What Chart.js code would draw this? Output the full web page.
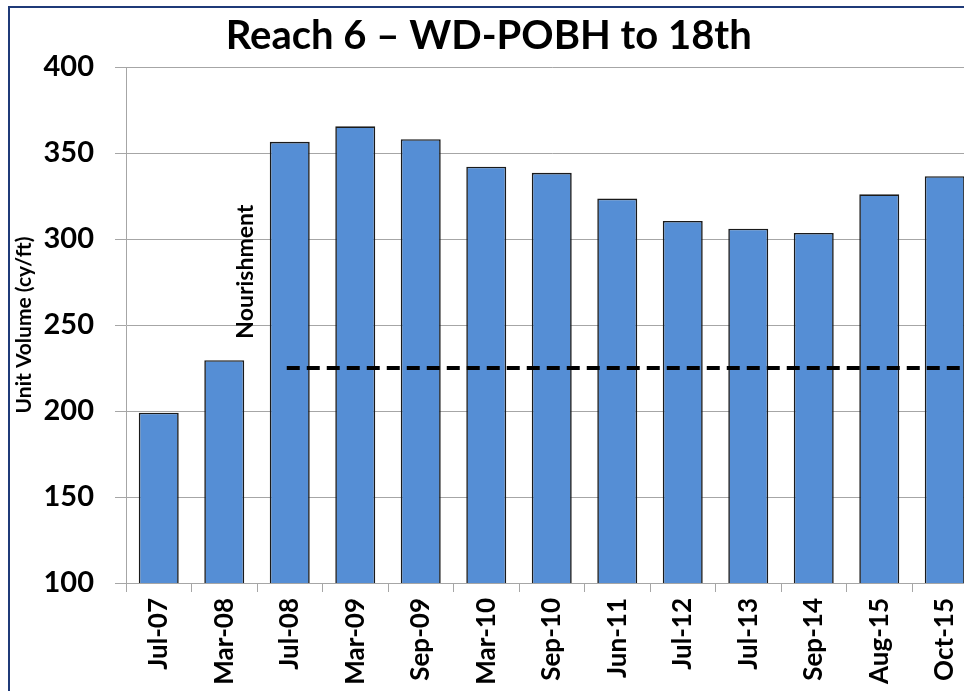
<!DOCTYPE html>
<html>
<head>
<meta charset="utf-8">
<script src="https://cdn.jsdelivr.net/npm/chart.js@4"></script>
<style>
  html, body { margin: 0; padding: 0; background: #fff; overflow: hidden; width: 964px; height: 691px; }
  #wrap { position: absolute; left: 0; top: 0; width: 984px; height: 691px; }
  #frame { position: absolute; left: 8px; top: 6px; width: 1100px; height: 1100px; border: 2.5px solid #1f3a78; pointer-events: none; }
</style>
</head>
<body>
<div id="wrap"><canvas id="c" width="984" height="691"></canvas></div>
<div id="frame"></div>
<script>
const categories = ['Jul-07','Mar-08','Jul-08','Mar-09','Sep-09','Mar-10','Sep-10','Jun-11','Jul-12','Jul-13','Sep-14','Aug-15','Oct-15'];
const unitVolume = [199, 229.5, 356.5, 365.5, 358, 342, 338.5, 323.5, 310.5, 306, 303.5, 326, 336.5];
const yTicks = [100, 150, 200, 250, 300, 350, 400];
const titleText = 'Reach 6 \u2013 WD-POBH to 18th';
const yTitle = 'Unit Volume (cy/ft)';
const referenceValue = 225;
const referenceStart = 'Jul-08';
const noteText = 'Nourishment';
const notePosition = [1.33, 281];

const FONT = 'Lato';
const GRID = '#a6a6a6';

const refLine = {
  id: 'refLine',
  afterDatasetsDraw(chart) {
    const {ctx, chartArea, scales: {x, y}} = chart;
    const yy = y.getPixelForValue(referenceValue);
    const x0 = x.getPixelForValue(categories.indexOf(referenceStart)) - 3;
    ctx.save();
    ctx.beginPath();
    ctx.setLineDash([13, 7]);
    ctx.lineWidth = 4;
    ctx.strokeStyle = '#000';
    ctx.moveTo(x0, yy);
    ctx.lineTo(chartArea.right + 10, yy);
    ctx.stroke();
    ctx.restore();
    const nx = x.getPixelForValue(notePosition[0]);
    const ny = y.getPixelForValue(notePosition[1]);
    ctx.save();
    ctx.translate(nx, ny);
    ctx.rotate(-Math.PI / 2);
    ctx.font = 'bold 23px ' + FONT;
    ctx.fillStyle = '#000';
    ctx.textAlign = 'center';
    ctx.textBaseline = 'middle';
    ctx.fillText(noteText, 0, 0);
    ctx.restore();
  }
};

new Chart(document.getElementById('c'), {
  type: 'bar',
  data: {
    labels: categories,
    datasets: [{
      data: unitVolume,
      backgroundColor: '#558ed5',
      borderColor: '#1a1a1a',
      borderWidth: 1.6,
      categoryPercentage: 1,
      barPercentage: 0.61
    }]
  },
  options: {
    responsive: false,
    devicePixelRatio: 1,
    animation: false,
    layout: { padding: { left: 0, right: 6.5, top: 0, bottom: 0 } },
    plugins: {
      legend: { display: false },
      tooltip: { enabled: false },
      title: {
        display: true,
        text: titleText,
        color: '#000',
        font: { family: FONT, weight: 'bold', size: 40 },
        padding: { top: 12, bottom: 7 }
      }
    },
    scales: {
      x: {
        offset: true,
        grid: { display: true, drawOnChartArea: false, offset: true, tickLength: 9, color: GRID },
        border: { display: true, color: GRID },
        ticks: {
          maxRotation: 90, minRotation: 90, autoSkip: false,
          padding: 6, color: '#000',
          font: { family: FONT, weight: 'bold', size: 26 }
        },
        afterFit(s) { s.height = 108; }
      },
      y: {
        min: 100, max: 400,
        afterBuildTicks(s) { s.ticks = yTicks.map(v => ({ value: v })); },
        grid: { color: GRID, tickLength: 11 },
        border: { display: true, color: GRID },
        ticks: {
          padding: 21, color: '#000',
          font: { family: FONT, weight: 'bold', size: 29 }
        },
        title: {
          display: true, text: yTitle, color: '#000',
          font: { family: FONT, weight: 'bold', size: 21 },
          padding: { top: 12, bottom: 0 }
        },
        afterFit(s) { s.width = 126; }
      }
    }
  },
  plugins: [refLine]
});
</script>
</body>
</html>
